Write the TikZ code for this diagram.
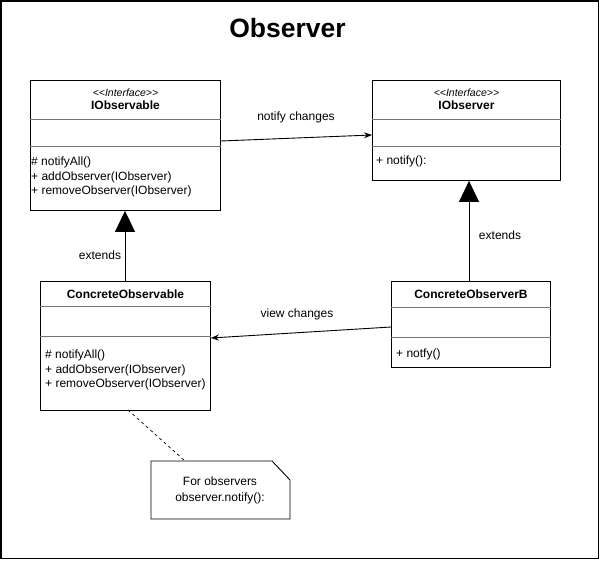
\documentclass[tikz,border=0pt]{standalone}
\usepackage{fontspec}
\setmainfont{Liberation Sans}
\usetikzlibrary{arrows.meta,calc}
\begin{document}
\begin{tikzpicture}[x=1pt,y=-1pt,
  every node/.style={font=\fontsize{12}{14}\selectfont, inner sep=0pt},
  classbox/.style={draw, line width=0.9pt, rectangle, anchor=north west, inner sep=0pt},
  divider/.style={draw=black!55, line width=0.8pt},
  members/.style={anchor=west, align=left, font=\fontsize{12}{14.5}\selectfont},
  bname/.style={font=\fontsize{12}{14}\bfseries},
  stereo/.style={font=\fontsize{10.5}{12}\itshape},
  inherit/.style={line width=0.8pt, -{Triangle[length=21pt,width=20pt]}},
  assoc/.style={line width=0.9pt, -{Stealth[length=8pt,width=6pt]}},
  lbl/.style={font=\fontsize{12}{14}\selectfont}
]
\useasboundingbox (0,0) rectangle (601,561);
% frame
\draw[line width=1.6pt] (0.8,0.8) rectangle (598.5,558.5);

% title
\node[font=\fontsize{26.5}{30}\bfseries] (title) at (287.5,28) {Observer};

% IObservable
\node[classbox, minimum width=190pt, minimum height=130pt] (iobs) at (30,80) {};
\draw[divider] ($(iobs.north west)+(0,39)$) -- ($(iobs.north east)+(0,39)$);
\draw[divider] ($(iobs.north west)+(0,66)$) -- ($(iobs.north east)+(0,66)$);
\node[stereo] (iobsst) at ($(iobs.north)+(0,12.5)$) {<\kern0pt<Interface>\kern0pt>};
\node[bname] (iobsnm) at ($(iobs.north)+(0,25)$) {IObservable};
\node[members] (iobsm) at ($(iobs.north west)+(1,97)$) {\# notifyAll()\\+ addObserver(IObserver)\\+ removeObserver(IObserver)};

% IObserver
\node[classbox, minimum width=188pt, minimum height=100pt] (iobr) at (372,80) {};
\draw[divider] ($(iobr.north west)+(0,39)$) -- ($(iobr.north east)+(0,39)$);
\draw[divider] ($(iobr.north west)+(0,66)$) -- ($(iobr.north east)+(0,66)$);
\node[stereo] (iobrst) at ($(iobr.north)+(0,12.5)$) {<\kern0pt<Interface>\kern0pt>};
\node[bname] (iobrnm) at ($(iobr.north)+(0,25)$) {IObserver};
\node[members] (iobrm) at ($(iobr.north west)+(4,81)$) {+ notify():};

% ConcreteObservable
\node[classbox, minimum width=170pt, minimum height=129pt] (cobs) at (40,281) {};
\draw[divider] ($(cobs.north west)+(0,25.5)$) -- ($(cobs.north east)+(0,25.5)$);
\draw[divider] ($(cobs.north west)+(0,55.5)$) -- ($(cobs.north east)+(0,55.5)$);
\node[bname] (cobsnm) at ($(cobs.north)+(0,13)$) {ConcreteObservable};
\node[members] (cobsm) at ($(cobs.north west)+(5,89)$) {\# notifyAll()\\+ addObserver(IObserver)\\+ removeObserver(IObserver)};

% ConcreteObserverB
\node[classbox, minimum width=159pt, minimum height=86pt] (cobr) at (391,281) {};
\draw[divider] ($(cobr.north west)+(0,26)$) -- ($(cobr.north east)+(0,26)$);
\draw[divider] ($(cobr.north west)+(0,56)$) -- ($(cobr.north east)+(0,56)$);
\node[bname] (cobrnm) at ($(cobr.north)+(0,13)$) {ConcreteObserverB};
\node[members] (cobrm) at ($(cobr.north west)+(5,73)$) {+ notfy()};

% note with folded corner
\coordinate (nw) at (151,461);
\coordinate (se) at (290,519);
\draw[line width=0.9pt] (nw) -- (272,461) -- (290,480) -- (se) -- (151,519) -- cycle;
\node[align=center, font=\fontsize{12}{15.5}\selectfont] (notetxt) at (220,490.5) {For observers\\observer.notify():};

% connectors
\draw[inherit] (cobs.north -| 125,0) -- (iobs.south -| 125,0);
\node[lbl] (ext1) at (100,255) {extends};
\draw[inherit] (cobr.north -| 469,0) -- (iobr.south -| 469,0);
\node[lbl] (ext2) at (500,235) {extends};

\draw[assoc] ($(iobs.north east)+(0,61)$) -- ($(iobr.north west)+(0,55)$);
\node[lbl] (nc) at (296,117) {notify changes};
\draw[assoc] ($(cobr.north west)+(0,46)$) -- ($(cobs.north east)+(0,57)$);
\node[lbl] (vc) at (297,314) {view changes};

\coordinate (dstart) at (128,410);
\coordinate (dend) at (185,461);
\draw[line width=0.7pt, dash pattern=on 3pt off 3pt] (dstart) -- (dend);
\end{tikzpicture}
\end{document}
